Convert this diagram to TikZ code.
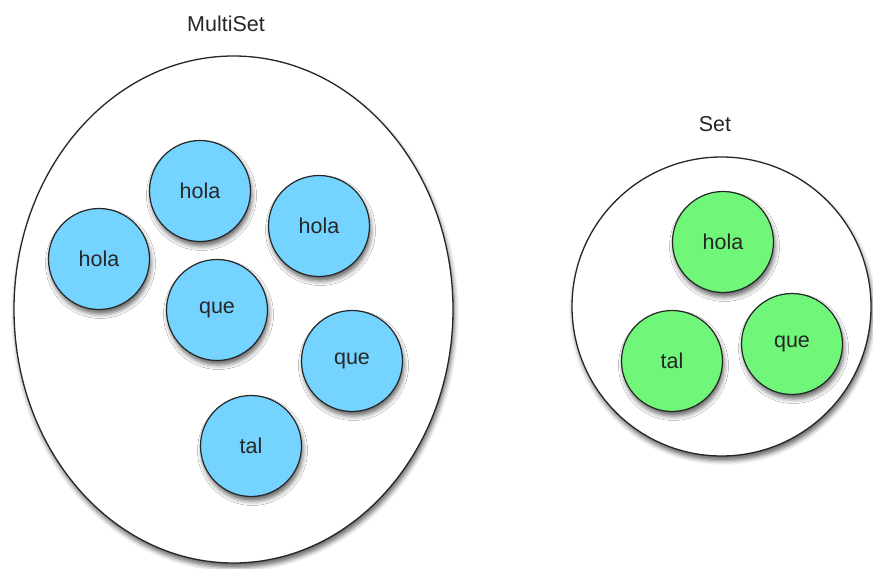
\documentclass[tikz,border=0pt]{standalone}
\usepackage{fontspec}
\setmainfont{Liberation Sans}
\usetikzlibrary{shapes.geometric,shadows.blur}
\definecolor{itemblue}{RGB}{116,212,255}
\definecolor{itemgreen}{RGB}{112,247,122}
\tikzset{
  softshadow/.style={blur shadow={shadow xshift=1.5pt, shadow yshift=-4.5pt,
      shadow blur radius=4.5pt, shadow opacity=60}},
  container/.style={draw=black!85, line width=1.3pt, fill=white, inner sep=0pt, softshadow},
  element/.style={circle, draw=black!85, line width=1.2pt, minimum size=101pt,
      inner sep=0pt, softshadow, text=black!85, font=\fontsize{21.5}{24}\selectfont},
  blueitem/.style={element, fill=itemblue},
  greenitem/.style={element, fill=itemgreen},
  caption/.style={text=black!85, font=\fontsize{21.5}{24}\selectfont}
}
\begin{document}
\begin{tikzpicture}[x=1pt, y=-1pt]
  \useasboundingbox (0,0) rectangle (873,569);

  % multiset container and its members
  \node[container, ellipse, minimum width=439pt, minimum height=507pt] (multiset) at (233.5,309.5) {};
  \node[caption] (multisetlabel) at (226,24) {MultiSet};
  \node[blueitem] (mhola1) at (200,191) {hola};
  \node[blueitem] (mhola2) at (99,259) {hola};
  \node[blueitem] (mhola3) at (319,226) {hola};
  \node[blueitem] (mque1) at (217,310) {que};
  \node[blueitem] (mque2) at (352,361) {que};
  \node[blueitem] (mtal) at (251,446) {tal};

  % set container and its members
  \node[container, circle, minimum size=299pt] (set) at (721.5,306.5) {};
  \node[caption] (setlabel) at (715,124) {Set};
  \node[greenitem] (shola) at (723,242) {hola};
  \node[greenitem] (stal) at (672,361) {tal};
  \node[greenitem] (sque) at (792,344) {que};
\end{tikzpicture}
\end{document}
